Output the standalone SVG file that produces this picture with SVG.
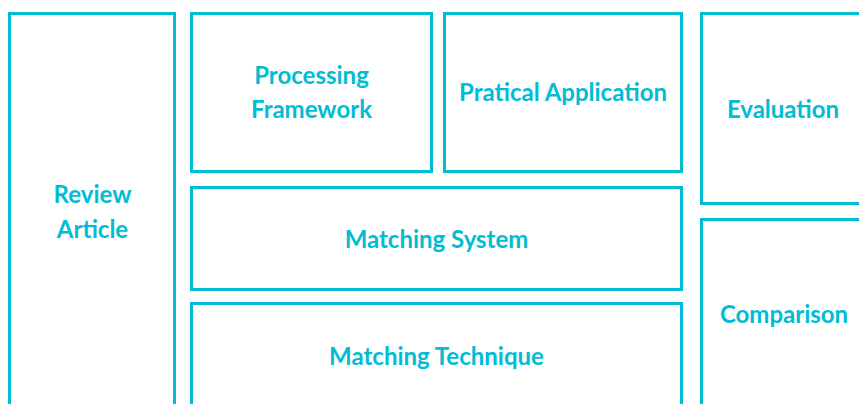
<svg xmlns="http://www.w3.org/2000/svg" width="859" height="404" viewBox="0 0 859 404">
  <style>
    .box { fill: #ffffff; stroke: #00bcd4; stroke-width: 3; }
    .label { fill: #00bcd4; font-family: Lato, "Open Sans", sans-serif; font-weight: 700; font-size: 24px; text-anchor: middle; }
  </style>
  <rect width="859" height="404" fill="#ffffff"/>
  <g id="review-article">
    <rect class="box" x="9.5" y="13.5" width="165" height="420"/>
    <text class="label" x="92.5" y="203">Review</text>
    <text class="label" x="92.5" y="238">Article</text>
  </g>
  <g id="processing-framework">
    <rect class="box" x="191.5" y="13.5" width="240" height="158"/>
    <text class="label" x="311.5" y="84">Processing</text>
    <text class="label" x="311.5" y="118">Framework</text>
  </g>
  <g id="practical-application">
    <rect class="box" x="444.5" y="13.5" width="237" height="158"/>
    <text class="label" x="563" y="101">Pratical Application</text>
  </g>
  <g id="evaluation">
    <rect class="box" x="701.5" y="13.5" width="170" height="190"/>
    <text class="label" x="783" y="118">Evaluation</text>
  </g>
  <g id="matching-system">
    <rect class="box" x="191.5" y="187.5" width="490" height="102"/>
    <text class="label" x="436.5" y="248">Matching System</text>
  </g>
  <g id="matching-technique">
    <rect class="box" x="191.5" y="303.5" width="490" height="130"/>
    <text class="label" x="436.5" y="365">Matching Technique</text>
  </g>
  <g id="comparison">
    <rect class="box" x="701.5" y="219.5" width="170" height="214"/>
    <text class="label" x="784" y="323">Comparison</text>
  </g>
  <g id="connectors"/>
</svg>
